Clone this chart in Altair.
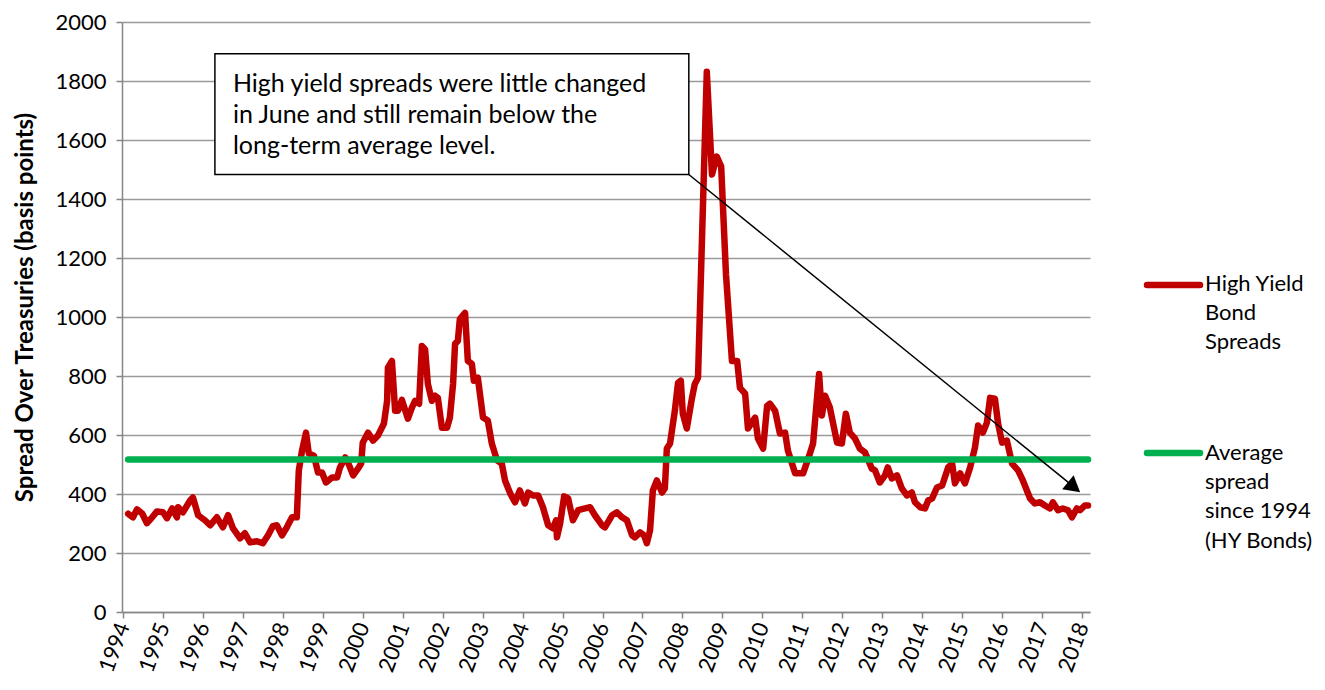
import altair as alt
import pandas as pd

# ---- data ----
years = [
    1994.13, 1994.25, 1994.35, 1994.48, 1994.60, 1994.73, 1994.85,
    1995.00, 1995.10, 1995.23, 1995.35, 1995.38, 1995.50, 1995.68, 1995.75, 1995.88,
    1996.05, 1996.18, 1996.35, 1996.50, 1996.63, 1996.75, 1996.93,
    1997.05, 1997.18, 1997.35, 1997.50, 1997.63, 1997.75, 1997.85, 1997.98,
    1998.10, 1998.23, 1998.35, 1998.40, 1998.48, 1998.58, 1998.65, 1998.78, 1998.88, 1998.98,
    1999.08, 1999.23, 1999.36, 1999.43, 1999.56, 1999.61, 1999.76, 1999.88, 1999.96,
    2000.00, 2000.13, 2000.26, 2000.38, 2000.53, 2000.61, 2000.63, 2000.73, 2000.81, 2000.88, 2000.98,
    2001.13, 2001.23, 2001.31, 2001.41, 2001.48, 2001.56, 2001.63, 2001.73, 2001.81, 2001.88, 2001.98,
    2002.11, 2002.18, 2002.26, 2002.31, 2002.38, 2002.43, 2002.56, 2002.63, 2002.73, 2002.78, 2002.88,
    2003.01, 2003.13, 2003.23, 2003.36, 2003.48, 2003.56, 2003.69, 2003.81, 2003.93,
    2004.06, 2004.14, 2004.26, 2004.39, 2004.51, 2004.64, 2004.76, 2004.84, 2004.86, 2004.94,
    2005.04, 2005.14, 2005.26, 2005.39, 2005.56, 2005.69, 2005.81, 2005.99,
    2006.06, 2006.24, 2006.36, 2006.49, 2006.61, 2006.74, 2006.81, 2006.94,
    2007.04, 2007.11, 2007.19, 2007.26, 2007.36, 2007.49, 2007.56, 2007.61, 2007.69, 2007.81, 2007.89, 2007.96,
    2008.01, 2008.11, 2008.24, 2008.31, 2008.39, 2008.61, 2008.74, 2008.86, 2008.97,
    2009.09, 2009.24, 2009.37, 2009.44, 2009.57, 2009.64, 2009.82, 2009.89,
    2010.02, 2010.12, 2010.19, 2010.32, 2010.44, 2010.57, 2010.64, 2010.82,
    2011.02, 2011.19, 2011.27, 2011.42, 2011.49, 2011.57, 2011.69, 2011.87, 2011.99,
    2012.09, 2012.19, 2012.32, 2012.44, 2012.57, 2012.74, 2012.82, 2012.94,
    2013.07, 2013.14, 2013.24, 2013.37, 2013.49, 2013.62, 2013.74, 2013.82, 2013.95,
    2014.07, 2014.15, 2014.25, 2014.37, 2014.50, 2014.65, 2014.75, 2014.82, 2014.95,
    2015.07, 2015.20, 2015.32, 2015.40, 2015.52, 2015.62, 2015.70, 2015.82, 2015.90,
    2016.00, 2016.12, 2016.25, 2016.40, 2016.52, 2016.70, 2016.82, 2016.95,
    2017.07, 2017.20, 2017.27, 2017.40, 2017.52, 2017.65, 2017.75, 2017.87, 2017.95,
    2018.07, 2018.15,
]
spreads = [
    333, 321, 348, 334, 301, 321, 341,
    338, 318, 351, 321, 355, 338, 378, 388, 328,
    311, 294, 321, 287, 328, 284, 250,
    267, 236, 240, 233, 260, 291, 294, 260,
    287, 321, 321, 480, 547, 608, 537, 530, 473, 473,
    439, 456, 456, 490, 524, 514, 463, 486, 503,
    574, 608, 581, 598, 639, 716, 828, 851, 682, 682, 719,
    655, 693, 716, 706, 902, 890, 773, 716, 733, 726, 625,
    625, 659, 773, 909, 919, 993, 1014, 851, 841, 784, 794,
    659, 649, 571, 514, 503, 446, 402, 372, 412,
    368, 405, 395, 395, 355, 294, 284, 311, 253, 301,
    392, 385, 311, 345, 351, 355, 328, 294,
    287, 328, 338, 321, 311, 260, 253, 270,
    260, 233, 277, 412, 446, 405, 419, 554, 571, 682, 777, 784,
    672, 622, 726, 773, 794, 1831, 1483, 1544, 1510,
    1145, 851, 851, 760, 740, 622, 659, 588,
    554, 699, 706, 682, 605, 608, 547, 470,
    470, 537, 571, 807, 666, 733, 693, 574, 571,
    672, 608, 588, 554, 541, 486, 480, 439,
    463, 490, 453, 463, 419, 395, 405, 372, 355,
    351, 378, 385, 422, 429, 490, 503, 436, 470,
    436, 490, 557, 632, 608, 642, 726, 723, 639,
    574, 581, 503, 480, 446, 385, 368, 372,
    361, 351, 372, 345, 351, 345, 321, 351, 345,
    361, 361,
]
average_spread = 517
year_ticks = list(range(1994, 2019))
y_ticks = list(range(0, 2001, 200))

series_names = ["High Yield Bond Spreads", "Average spread since 1994 (HY Bonds)"]
legend_lines_red = ["High Yield", "Bond", "Spreads"]
legend_lines_green = ["Average", "spread", "since 1994", "(HY Bonds)"]
note_lines = [
    "High yield spreads were little changed",
    "in June and still remain below the",
    "long-term average level.",
]

RED = "#C00000"
GREEN = "#00B050"
FONT = "Lato"
X_DOMAIN = [1993.975, 2018.2]

df = pd.DataFrame({"year": years, "spread": spreads})
avg_df = pd.DataFrame({"year": [years[0], years[-1]], "spread": [average_spread, average_spread]})

x_enc = alt.X(
    "year:Q",
    scale=alt.Scale(domain=X_DOMAIN, nice=False, zero=False),
    axis=alt.Axis(
        values=year_ticks, format="d", title=None, grid=False,
        labelAngle=-70, labelAlign="right", labelBaseline="middle",
        labelFontSize=22, labelPadding=5, tickSize=6,
    ),
)
y_enc = alt.Y(
    "spread:Q",
    scale=alt.Scale(domain=[0, 2000], nice=False),
    axis=alt.Axis(
        values=y_ticks, format="d", title="Spread Over Treasuries (basis points)",
        titleFontSize=24, titleFontWeight="bold", titleAngle=-90,
        titleX=-97, titleY=285, titleAlign="center", titleBaseline="middle",
        labelFontSize=22, labelPadding=10, tickSize=6, grid=True,
    ),
)

spread_line = alt.Chart(df).mark_line(
    color=RED, strokeWidth=6.5, strokeCap="round", strokeJoin="round"
).encode(x=x_enc, y=y_enc)

avg_line = alt.Chart(avg_df).mark_line(
    color=GREEN, strokeWidth=6.5, strokeCap="round"
).encode(x="year:Q", y="spread:Q")

# annotation box
box_df = pd.DataFrame({"x": [1996.30], "x2": [2008.16], "y": [1483], "y2": [1892]})
box = alt.Chart(box_df).mark_rect(fill="white", stroke="black", strokeWidth=1.5).encode(
    x="x:Q", x2="x2:Q", y="y:Q", y2="y2:Q"
)
note_df = pd.DataFrame({"x": [1996.75] * 3, "y": [1791, 1686, 1581], "t": note_lines})
note = alt.Chart(note_df).mark_text(
    align="left", baseline="middle", fontSize=25, font=FONT, color="black"
).encode(x="x:Q", y="y:Q", text="t:N")

arrow_df = pd.DataFrame({"x": [2008.16], "x2": [2017.85], "y": [1483], "y2": [418]})
arrow = alt.Chart(arrow_df).mark_rule(color="black", strokeWidth=1.5).encode(
    x="x:Q", x2="x2:Q", y="y:Q", y2="y2:Q"
)
head_df = pd.DataFrame({"x": [2017.80], "y": [423]})
head = alt.Chart(head_df).mark_point(
    shape="triangle-right", filled=True, color="black", size=330, angle=39, opacity=1
).encode(x="x:Q", y="y:Q")

# legend (manual)
leg_sym = pd.DataFrame({"s": series_names, "yy": [263, 431], "c": [RED, GREEN]})
legend_sym = alt.Chart(leg_sym).mark_rule(strokeWidth=6.5, strokeCap="round").encode(
    x=alt.value(1025), x2=alt.value(1078),
    y=alt.Y("yy:Q", scale=None), color=alt.Color("c:N", scale=None),
)
leg_txt = pd.DataFrame({
    "t": legend_lines_red + legend_lines_green,
    "yy": [262, 291, 320, 431, 460, 489, 519],
})
legend_txt = alt.Chart(leg_txt).mark_text(
    align="left", baseline="middle", fontSize=22, font=FONT, color="black"
).encode(x=alt.value(1083), y=alt.Y("yy:Q", scale=None), text="t:N")

chart = alt.layer(
    spread_line, avg_line, box, note, arrow, head, legend_sym, legend_txt
).properties(
    width=968, height=590,
    autosize=alt.AutoSizeParams(type="none"),
    padding={"left": 114, "top": 14, "right": 225, "bottom": 70},
).configure_view(stroke=None).configure_axis(
    labelFont=FONT, titleFont=FONT, labelColor="black", titleColor="black",
    domainColor="#868686", domainWidth=1.5, tickColor="#868686", tickWidth=1.5,
    gridColor="#9a9a9a", gridWidth=1.3,
)

chart.save("out.html", embed_options={"renderer": "svg", "actions": False})
